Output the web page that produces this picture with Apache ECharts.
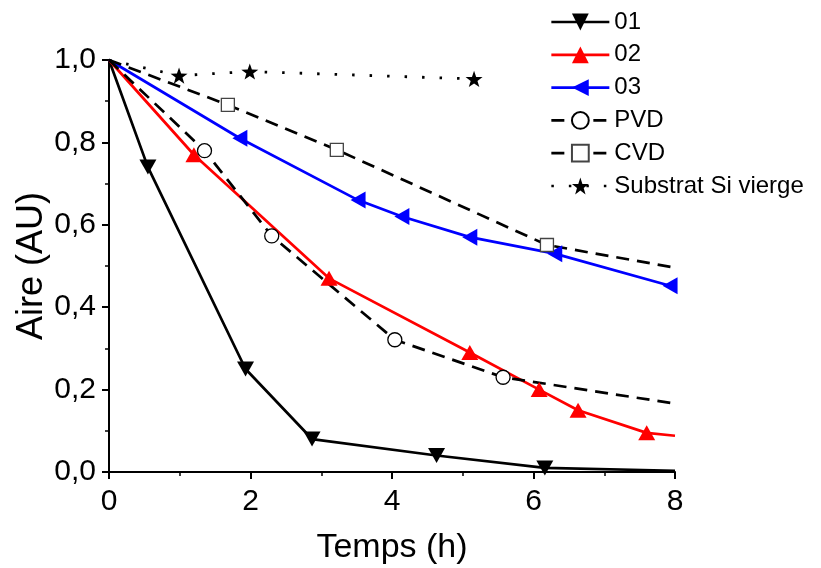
<!DOCTYPE html>
<html>
<head>
<meta charset="utf-8">
<script src="https://cdn.jsdelivr.net/npm/echarts@6/dist/echarts.min.js"></script>
<style>
html,body{margin:0;padding:0;background:#fff;}
#chart{width:821px;height:568px;}
</style>
</head>
<body>
<div id="chart"></div>
<script>
// ---- data ----
const xTicks = [0, 2, 4, 6, 8];
const yTicks = [0, 0.2, 0.4, 0.6, 0.8, 1.0];

const s01X = [0, 0.55, 1.93, 2.87, 4.63, 6.16, 8];
const s01Y = [1.0, 0.74, 0.25, 0.08, 0.04, 0.01, 0.003];

const s02X = [0, 1.20, 3.11, 5.10, 6.08, 6.63, 7.60, 8];
const s02Y = [1.0, 0.77, 0.47, 0.29, 0.20, 0.15, 0.095, 0.088];

const s03X = [0, 1.85, 3.52, 4.14, 5.10, 6.30, 7.93, 8];
const s03Y = [1.0, 0.81, 0.66, 0.62, 0.57, 0.53, 0.452, 0.45];

const pvdX = [0, 1.35, 2.30, 4.04, 5.57, 8];
const pvdY = [1.0, 0.78, 0.573, 0.321, 0.23, 0.166];

const cvdX = [0, 1.68, 3.22, 6.19, 8];
const cvdY = [1.0, 0.891, 0.782, 0.551, 0.496];

const siX = [0, 0.99, 1.99, 5.16];
const siY = [1.0, 0.962, 0.972, 0.954];

const seriesNames = ['01', '02', '03', 'PVD', 'CVD', 'Substrat Si vierge'];

// ---- build ----
const FONT = '"Liberation Sans", Arial, sans-serif';
const STAR = 'path://M0,-10 L2.35,-3.24 9.51,-3.09 3.8,1.24 5.88,8.09 0,4 -5.88,8.09 -3.8,1.24 -9.51,-3.09 -2.35,-3.24Z';

function pts(xs, ys) {
  // endpoints at x=0 and the clipped end at x=8 carry no marker
  return xs.map((x, i) => {
    const p = { value: [x, ys[i]] };
    if (x === 0 || x === 8) p.symbol = 'none';
    return p;
  });
}

function mk(name, xs, ys, color, lineType, width, symbol, size, rotate, fill, border) {
  return {
    name: name,
    type: 'line',
    data: pts(xs, ys),
    symbol: symbol,
    symbolSize: size,
    symbolRotate: rotate,
    symbolKeepAspect: true,
    showAllSymbol: true,
    clip: false,
    lineStyle: { color: color, width: width, type: lineType, cap: 'butt' },
    itemStyle: { color: fill, borderColor: border || fill, borderWidth: border ? 1.3 : 0, opacity: 1 },
    emphasis: { disabled: true },
    animation: false,
    z: 3
  };
}

const series = [
  mk(seriesNames[0], s01X, s01Y, '#000', 'solid', 2.7, 'triangle', [17, 15], 180, '#000'),
  mk(seriesNames[1], s02X, s02Y, '#ff0000', 'solid', 2.7, 'triangle', [17, 15], 0, '#ff0000'),
  mk(seriesNames[2], s03X, s03Y, '#0000ff', 'solid', 2.7, 'triangle', [17, 15], 90, '#0000ff'),
  mk(seriesNames[3], pvdX, pvdY, '#000', [13, 8], 2.7, 'circle', 14, 0, '#fff', '#000'),
  mk(seriesNames[4], cvdX, cvdY, '#000', [13, 8], 2.7, 'rect', 13, 0, '#fff', '#444'),
  mk(seriesNames[5], siX, siY, '#000', [2.5, 15], 2.8, STAR, 17, 0, '#000')
];

const chart = echarts.init(document.getElementById('chart'), null, { renderer: 'canvas' });
chart.setOption({
  backgroundColor: '#fff',
  animation: false,
  textStyle: { fontFamily: FONT },
  grid: { left: 109, right: 146, top: 60, bottom: 96, containLabel: false, outerBoundsMode: 'none' },
  legend: {
    data: seriesNames,
    orient: 'vertical',
    left: 545,
    top: 5,
    itemWidth: 58,
    itemHeight: 21,
    itemGap: 8.8,
    selectedMode: false,
    lineStyle: { width: 2.7 },
    textStyle: { fontFamily: FONT, fontSize: 24, color: '#000' }
  },
  xAxis: {
    type: 'value',
    min: 0, max: 8, interval: 2,
    name: 'Temps (h)',
    nameLocation: 'middle',
    nameGap: 59,
    nameMoveOverlap: false,
    nameTextStyle: { fontFamily: FONT, fontSize: 34, color: '#000' },
    axisLine: { show: true, onZero: false, lineStyle: { color: '#000', width: 2 } },
    axisTick: { show: true, length: 7, lineStyle: { color: '#000', width: 2 } },
    minorTick: { show: true, splitNumber: 2, length: 4, lineStyle: { color: '#000', width: 1.5 } },
    splitLine: { show: false },
    axisLabel: {
      margin: 15, fontFamily: FONT, fontSize: 30, color: '#000',
      formatter: v => String(v)
    }
  },
  yAxis: {
    type: 'value',
    min: 0, max: 1, interval: 0.2,
    name: 'Aire (AU)',
    nameLocation: 'middle',
    nameGap: 59,
    nameRotate: 90,
    nameMoveOverlap: false,
    nameTextStyle: { fontFamily: FONT, fontSize: 36, color: '#000' },
    axisLine: { show: true, onZero: false, lineStyle: { color: '#000', width: 2 } },
    axisTick: { show: true, length: 7, lineStyle: { color: '#000', width: 2 } },
    minorTick: { show: true, splitNumber: 2, length: 4, lineStyle: { color: '#000', width: 1.5 } },
    splitLine: { show: false },
    axisLabel: {
      margin: 13, fontFamily: FONT, fontSize: 30, color: '#000',
      formatter: v => v.toFixed(1).replace('.', ',')
    }
  },
  series: series
});
</script>
</body>
</html>
